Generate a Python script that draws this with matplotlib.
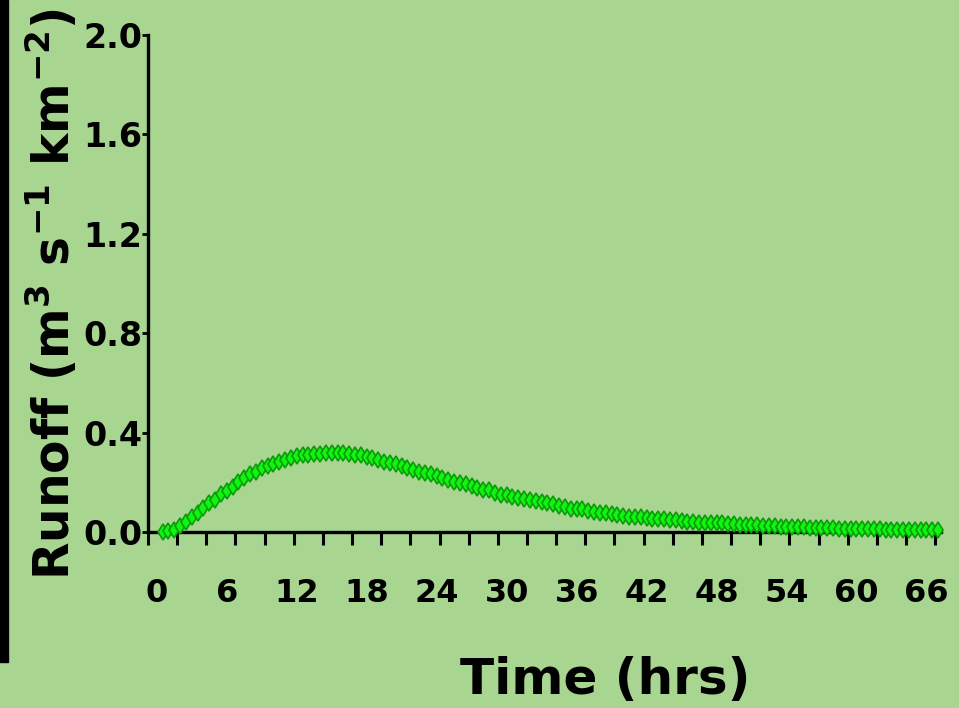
import numpy as np
import matplotlib
matplotlib.use("Agg")
import matplotlib.pyplot as plt
from matplotlib.patches import Rectangle

# Hourly runoff at half-hour steps (m3 s-1 km-2)
time_hrs = np.arange(0.5, 67.01, 0.5)
runoff = [
    0.000, 0.003, 0.010, 0.025, 0.040, 0.060, 0.075, 0.095, 0.118, 0.130,
    0.152, 0.167, 0.183, 0.200, 0.216, 0.233, 0.243, 0.257, 0.266, 0.274,
    0.283, 0.290, 0.297, 0.304, 0.308, 0.310, 0.314, 0.315, 0.317, 0.317,
    0.317, 0.316,
    0.314, 0.309, 0.309, 0.302, 0.297, 0.290, 0.282, 0.279, 0.274, 0.266,
    0.257, 0.250, 0.242, 0.238, 0.233, 0.224, 0.219, 0.210, 0.200, 0.198,
    0.192, 0.185, 0.176, 0.168, 0.168, 0.158, 0.150, 0.148, 0.140, 0.136,
    0.132, 0.127, 0.125,
    0.120, 0.116, 0.112, 0.105, 0.102, 0.093, 0.091, 0.091, 0.086, 0.079,
    0.075, 0.075, 0.073, 0.069, 0.065, 0.062, 0.062, 0.059, 0.058, 0.051,
    0.051, 0.051, 0.048, 0.048, 0.044, 0.042, 0.042, 0.038, 0.038, 0.038,
    0.035, 0.035,
    0.034, 0.031, 0.030, 0.029, 0.028, 0.027, 0.026, 0.025, 0.024, 0.022,
    0.021, 0.020, 0.020, 0.019, 0.018, 0.018, 0.017, 0.017, 0.016, 0.013,
    0.012, 0.012, 0.012, 0.011, 0.011, 0.011, 0.011, 0.010, 0.010, 0.010,
    0.010, 0.010, 0.010, 0.010, 0.010, 0.010, 0.010,
]

x_labels = [0, 6, 12, 18, 24, 30, 36, 42, 48, 54, 60, 66]
y_ticks = [0.0, 0.4, 0.8, 1.2, 1.6, 2.0]

bg = "#A8D590"
plt.rcParams["font.family"] = "DejaVu Sans"
plt.rcParams["mathtext.default"] = "bf"

fig = plt.figure(figsize=(9.59, 7.08), dpi=100, facecolor=bg)
ax = fig.add_axes([148 / 959, 176 / 708, 793 / 959, 497 / 708])
ax.set_facecolor(bg)

ax.plot(time_hrs, runoff, linestyle="none", marker="d", markersize=8.5,
        markerfacecolor="#10F510", markeredgecolor="#0A9A0A",
        markeredgewidth=1.2, clip_on=False, zorder=3)

ax.set_xlim(-0.75, 67.25)
ax.set_ylim(0, 2.0)

for side in ("top", "right"):
    ax.spines[side].set_visible(False)
for side in ("left", "bottom"):
    ax.spines[side].set_linewidth(2.4)
    ax.spines[side].set_color("black")

ax.set_xticks(x_labels)
ax.set_xticklabels([str(v) for v in x_labels], fontsize=23, fontweight="bold")
ax.set_xticks(np.arange(-0.75, 67, 2.5), minor=True)
ax.tick_params(axis="x", which="major", length=0, pad=33)
ax.tick_params(axis="x", which="minor", length=9, width=2.2, direction="out")

ax.set_yticks(y_ticks)
ax.set_yticklabels([f"{v:.1f}" for v in y_ticks], fontsize=24,
                   fontweight="semibold")
ax.tick_params(axis="y", which="major", length=4, width=2, pad=0)

fig.text(605 / 959, 1 - 680 / 708, "Time (hrs)", fontsize=36,
         fontweight="bold", ha="center", va="center")
fig.text(52 / 959, 1 - 294 / 708, "Runoff (m$^{3}$ s$^{-1}$ km$^{-2}$)",
         fontsize=35, fontweight="bold", rotation=90,
         ha="center", va="center")

# dark strip along the left edge
fig.patches.append(Rectangle((0, 1 - 662 / 708), 8 / 959, 662 / 708,
                             transform=fig.transFigure, color="black"))

fig.savefig("out.png", dpi=100, facecolor=bg)
